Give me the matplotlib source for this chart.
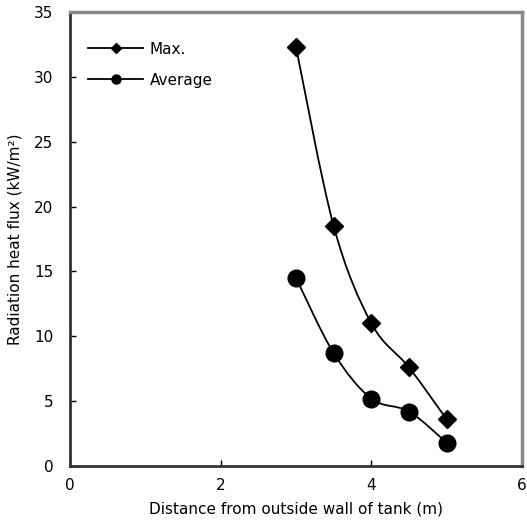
import numpy as np
import matplotlib
matplotlib.use("Agg")
import matplotlib.pyplot as plt
from matplotlib.path import Path
from matplotlib.patches import PathPatch
from matplotlib.lines import Line2D

distance = [3.0, 3.5, 4.0, 4.5, 5.0]
max_flux = [32.3, 18.5, 11.0, 7.6, 3.6]
avg_flux = [14.5, 8.7, 5.2, 4.2, 1.8]
x_ticks = [0, 2, 4, 6]
y_ticks = [0, 5, 10, 15, 20, 25, 30, 35]

plt.rcParams['font.family'] = ['DejaVu Sans']

fig = plt.figure(figsize=(5.27, 5.28), dpi=100)
ax = fig.add_axes([70/527, 1 - 466/528, (522-70)/527, (466-12)/528])


def smooth_path(xs, ys):
    xs = np.asarray(xs, float)
    ys = np.asarray(ys, float)
    n = len(xs)
    verts = [(xs[0], ys[0])]
    codes = [Path.MOVETO]
    t = 1 / 6
    for i in range(n - 1):
        i0 = max(i - 1, 0)
        i3 = min(i + 2, n - 1)
        c1 = (xs[i] + (xs[i + 1] - xs[i0]) * t, ys[i] + (ys[i + 1] - ys[i0]) * t)
        c2 = (xs[i + 1] - (xs[i3] - xs[i]) * t, ys[i + 1] - (ys[i3] - ys[i]) * t)
        verts += [c1, c2, (xs[i + 1], ys[i + 1])]
        codes += [Path.CURVE4] * 3
    return Path(verts, codes)


for ys in (max_flux, avg_flux):
    ax.add_patch(PathPatch(smooth_path(distance, ys), facecolor='none',
                           edgecolor='black', lw=1.3, zorder=2))

ax.plot(distance, max_flux, linestyle='none', marker='D', markersize=9.5,
        color='black', zorder=3)
ax.plot(distance, avg_flux, linestyle='none', marker='o', markersize=12,
        color='black', zorder=3)

ax.set_xlim(0, 6)
ax.set_ylim(0, 35)
ax.set_xticks(x_ticks)
ax.set_yticks(y_ticks)
ax.tick_params(direction='in', length=4, width=1, labelsize=11, pad=9)
ax.tick_params(axis='y', pad=12)

for s in ('top', 'right'):
    ax.spines[s].set_color('#8a8a8a')
    ax.spines[s].set_linewidth(2.5)
for s in ('left', 'bottom'):
    ax.spines[s].set_color('#333333')
    ax.spines[s].set_linewidth(2)

ax.set_xlabel('Distance from outside wall of tank (m)', fontsize=11, labelpad=6)
ax.set_ylabel('Radiation heat flux (kW/m²)', fontsize=11, labelpad=8)

handles = [
    Line2D([], [], color='black', lw=1.3, marker='D', markersize=5.5, label='Max.'),
    Line2D([], [], color='black', lw=1.3, marker='o', markersize=6.5, label='Average'),
]
ax.legend(handles=handles, loc='upper left', bbox_to_anchor=(0.01, 0.965),
          frameon=False, fontsize=11, handlelength=3.6, handletextpad=0.4,
          labelspacing=1.05)

fig.savefig('out.png', dpi=100)
